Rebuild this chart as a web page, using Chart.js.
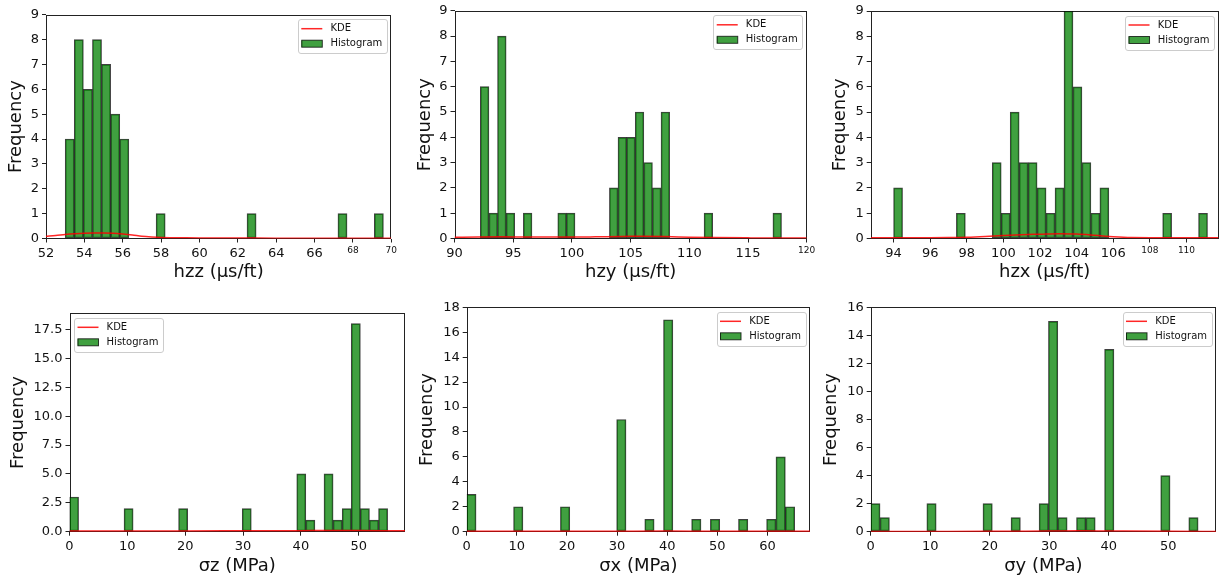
<!DOCTYPE html>
<html><head><meta charset="utf-8">
<script src="https://cdn.jsdelivr.net/npm/chart.js@4.4.1/dist/chart.umd.min.js"></script>
<style>
html,body{margin:0;padding:0;background:#fff;}
#wrap{position:relative;width:1225px;height:579px;overflow:hidden;background:#fff;}
.p{position:absolute;}
.p canvas{display:block;}
</style></head><body>
<div id="wrap">
<div class="p" id="b1"><canvas id="c1"></canvas></div>
<div class="p" id="b2"><canvas id="c2"></canvas></div>
<div class="p" id="b3"><canvas id="c3"></canvas></div>
<div class="p" id="b4"><canvas id="c4"></canvas></div>
<div class="p" id="b5"><canvas id="c5"></canvas></div>
<div class="p" id="b6"><canvas id="c6"></canvas></div>
</div>
<script>
// ---------------- DATA ----------------
// hzz
const hzzBinStart = 53.0, hzzBinWidth = 0.474;
const hzzCounts = [4,8,6,8,7,5,4,0,0,0,1,0,0,0,0,0,0,0,0,0,1,0,0,0,0,0,0,0,0,0,1,0,0,0,1];
const hzzKdeX = [52,52.5,53,53.5,54,54.5,55,55.5,56,56.5,57,57.5,58,59,60,62,64,66,68,70];
const hzzKdeY = [0.09,0.12,0.16,0.19,0.21,0.22,0.22,0.21,0.18,0.14,0.09,0.06,0.04,0.03,0.02,0.018,0.015,0.015,0.015,0.015];
const hzzXTicks = [52,54,56,58,60,62,64,66,68,70];
const hzzSmallTicks = [68,70];
// hzy
const hzyBinStart = 92.2, hzyBinWidth = 0.733;
const hzyCounts = [6,1,8,1,0,1,0,0,0,1,1,0,0,0,0,2,4,4,5,3,2,5,0,0,0,0,1,0,0,0,0,0,0,0,1];
const hzyKdeX = [90,92,94,96,98,100,102,104,105,106,108,110,112,115,118,120];
const hzyKdeY = [0.05,0.06,0.065,0.06,0.055,0.055,0.065,0.08,0.085,0.085,0.075,0.05,0.035,0.025,0.02,0.02];
const hzyXTicks = [90,95,100,105,110,115,120];
const hzySmallTicks = [120];
// hzx
const hzxBinStart = 94.0, hzxBinWidth = 0.49;
const hzxCounts = [2,0,0,0,0,0,0,1,0,0,0,3,1,5,3,3,2,1,2,9,6,3,1,2,0,0,0,0,0,0,1,0,0,0,1];
const hzxKdeX = [92.75,94,96,97,98,99,100,101,102,103,104,105,106,107,108,110,111.75];
const hzxKdeY = [0.03,0.03,0.03,0.035,0.05,0.08,0.12,0.15,0.17,0.19,0.18,0.13,0.07,0.035,0.03,0.03,0.03];
const hzxXTicks = [94,96,98,100,102,104,106,108,110];
const hzxSmallTicks = [108,110];
// sigma z
const szBinStart = 0, szBinWidth = 1.5714;
const szCounts = [3,0,0,0,0,0,2,0,0,0,0,0,2,0,0,0,0,0,0,2,0,0,0,0,0,5,1,0,5,1,2,18,2,1,2];
const szKdeX = [0,10,20,30,40,45,50,55,58];
const szKdeY = [0.07,0.07,0.07,0.08,0.09,0.1,0.1,0.09,0.08];
const szXTicks = [0,10,20,30,40,50];
// sigma x
const sxBinStart = 0, sxBinWidth = 1.87;
const sxCounts = [3,0,0,0,0,2,0,0,0,0,2,0,0,0,0,0,9,0,0,1,0,17,0,0,1,0,1,0,0,1,0,0,1,6,2];
const sxKdeX = [0,10,20,30,40,50,60,68.5];
const sxKdeY = [0.03,0.03,0.03,0.04,0.05,0.04,0.04,0.03];
const sxXTicks = [0,10,20,30,40,50,60];
// sigma y
const syBinStart = 0, syBinWidth = 1.5714;
const syCounts = [2,1,0,0,0,0,2,0,0,0,0,0,2,0,0,1,0,0,2,15,1,0,1,1,0,13,0,0,0,0,0,4,0,0,1];
const syKdeX = [0,10,20,30,35,40,50,58];
const syKdeY = [0.02,0.02,0.025,0.05,0.06,0.05,0.03,0.02];
const syXTicks = [0,10,20,30,40,50];

const yTicks9 = [0,1,2,3,4,5,6,7,8,9];
const yTicksSz = [0,2.5,5,7.5,10,12.5,15,17.5];
const yTicksSx = [0,2,4,6,8,10,12,14,16,18];
const yTicksSy = [0,2,4,6,8,10,12,14,16];

// ---------------- STYLE / LAYOUT ----------------
Chart.defaults.font.family = "'DejaVu Sans', sans-serif";
Chart.defaults.color = '#111';

const framePlugin = {
  id: 'frame',
  beforeDatasetsDraw(chart) {
    const {ctx, chartArea: a} = chart;
    ctx.save();
    ctx.strokeStyle = '#222';
    ctx.lineWidth = 1;
    const l = Math.round(a.left) + 0.5, t = Math.round(a.top) + 0.5;
    const r = Math.round(a.right) - 0.5, b = Math.round(a.bottom) - 0.5;
    ctx.strokeRect(l, t, r - l, b - t);
    ctx.restore();
  }
};

const legendPlugin = {
  id: 'mplLegend',
  afterDraw(chart, args, opts) {
    const {ctx, chartArea: a} = chart;
    const ds = chart.data.datasets;
    ctx.save();
    ctx.font = "10px 'DejaVu Sans', sans-serif";
    const textW = Math.max(...ds.map(d => ctx.measureText(d.label).width));
    const w = 32.6 + textW + 4.5, h = 34.3;
    const x = opts.side === 'left' ? a.left + 4.5 : a.right - 4.5 - w;
    const y = a.top + 4.5;
    ctx.beginPath();
    ctx.roundRect(Math.round(x) + 0.5, Math.round(y) + 0.5, Math.round(w), Math.round(h), 2.5);
    ctx.fillStyle = 'rgba(255,255,255,0.8)';
    ctx.fill();
    ctx.strokeStyle = '#cccccc';
    ctx.lineWidth = 1;
    ctx.stroke();
    // KDE row
    const r1 = y + 9.5, r2 = y + 24.5;
    ctx.strokeStyle = ds[0].borderColor;
    ctx.lineWidth = 1.5;
    ctx.beginPath(); ctx.moveTo(x + 3.5, r1); ctx.lineTo(x + 24.5, r1); ctx.stroke();
    // Histogram row
    ctx.fillStyle = ds[1].backgroundColor;
    ctx.fillRect(x + 3.5, r2 - 3.5, 21, 7);
    ctx.strokeStyle = ds[1].borderColor;
    ctx.lineWidth = 1;
    ctx.strokeRect(x + 4, r2 - 3.5, 20.5, 7);
    ctx.fillStyle = '#111';
    ctx.textBaseline = 'middle';
    ctx.textAlign = 'left';
    ctx.fillText(ds[0].label, x + 32.6, r1);
    ctx.fillText(ds[1].label, x + 32.6, r2);
    ctx.restore();
  }
};

function makePanel(p) {
  const box = document.getElementById(p.box);
  Object.assign(box.style, {left: p.rect[0] + 'px', top: p.rect[1] + 'px', width: p.rect[2] + 'px', height: p.rect[3] + 'px'});
  const canvas = document.getElementById(p.canvas);
  const barData = p.counts.map((c, i) => ({x: p.binStart + (i + 0.5) * p.binWidth, y: c > 0 ? c : null}));
  const kdeData = p.kdeX.map((x, i) => ({x: x, y: p.kdeY[i]}));
  const small = p.smallTicks || [];
  new Chart(canvas, {
    type: 'bar',
    data: {
      datasets: [
        {type: 'line', label: 'KDE', data: kdeData, borderColor: 'rgba(255,0,0,0.85)', borderWidth: 1.5,
         pointRadius: 0, cubicInterpolationMode: 'monotone', order: 0},
        {type: 'bar', label: 'Histogram', data: barData, backgroundColor: 'rgba(0,128,0,0.75)',
         borderColor: 'rgba(0,0,0,0.75)', borderWidth: 1, borderSkipped: false,
         barPercentage: 1, categoryPercentage: 1, order: 1}
      ]
    },
    options: {
      responsive: true, maintainAspectRatio: false, animation: false, events: [],
      layout: {padding: {left: 0, right: p.padR, top: p.padT, bottom: 0}},
      plugins: {legend: {display: false}, tooltip: {enabled: false}, mplLegend: {side: p.legendSide}},
      scales: {
        x: {
          type: 'linear', min: p.xMin, max: p.xMax, offset: false,
          afterBuildTicks: s => { s.ticks = p.xTicks.map(v => ({value: v})); },
          afterFit: s => { s.height = p.xAxisH; },
          ticks: {autoSkip: false, maxRotation: 0, minRotation: 0, padding: 3, color: '#111',
                  font: ctx => ({size: (ctx.tick && small.includes(ctx.tick.value)) ? 9 : 13}),
                  callback: v => String(v)},
          grid: {offset: false, drawOnChartArea: false, drawTicks: true, tickLength: 4, color: '#222'},
          border: {display: false},
          title: {display: true, text: p.xTitle, font: {size: 18}, color: '#111', padding: {top: 0, bottom: p.xTitlePad}}
        },
        y: {
          type: 'linear', min: 0, max: p.yMax,
          afterBuildTicks: s => { s.ticks = p.yTicks.map(v => ({value: v})); },
          afterFit: s => { s.width = p.yAxisW; },
          ticks: {autoSkip: false, padding: 3, color: '#111', font: {size: 13},
                  callback: v => p.yDecimals ? v.toFixed(p.yDecimals) : String(v)},
          grid: {drawOnChartArea: false, drawTicks: true, tickLength: 4, color: '#222'},
          border: {display: false},
          title: {display: true, text: 'Frequency', font: {size: 18}, color: '#111', padding: {top: p.yTitlePad, bottom: 0}}
        }
      }
    },
    plugins: [framePlugin, legendPlugin]
  });
}

const panels = [
  {box: 'b1', canvas: 'c1', rect: [0, 0, 400, 290], yAxisW: 46, padR: 7.3, padT: 14.7, xAxisH: 51.5,
   yTitlePad: 5.4, xTitlePad: 6.7, xTitle: 'hzz (µs/ft)', xMin: 52, xMax: 70, yMax: 9,
   binStart: hzzBinStart, binWidth: hzzBinWidth, counts: hzzCounts, kdeX: hzzKdeX, kdeY: hzzKdeY,
   xTicks: hzzXTicks, smallTicks: hzzSmallTicks, yTicks: yTicks9, legendSide: 'right'},
  {box: 'b2', canvas: 'c2', rect: [400, 0, 420, 290], yAxisW: 54.5, padR: 13.3, padT: 9.3, xAxisH: 51.5,
   yTitlePad: 14.2, xTitlePad: 6.7, xTitle: 'hzy (µs/ft)', xMin: 90, xMax: 120, yMax: 9,
   binStart: hzyBinStart, binWidth: hzyBinWidth, counts: hzyCounts, kdeX: hzyKdeX, kdeY: hzyKdeY,
   xTicks: hzyXTicks, smallTicks: hzySmallTicks, yTicks: yTicks9, legendSide: 'right'},
  {box: 'b3', canvas: 'c3', rect: [820, 0, 405, 290], yAxisW: 50.7, padR: 6.5, padT: 11, xAxisH: 51.5,
   yTitlePad: 9.7, xTitlePad: 6.7, xTitle: 'hzx (µs/ft)', xMin: 92.75, xMax: 111.75, yMax: 9,
   binStart: hzxBinStart, binWidth: hzxBinWidth, counts: hzxCounts, kdeX: hzxKdeX, kdeY: hzxKdeY,
   xTicks: hzxXTicks, smallTicks: hzxSmallTicks, yTicks: yTicks9, legendSide: 'right'},
  {box: 'b4', canvas: 'c4', rect: [0, 290, 410, 289], yAxisW: 69.5, padR: 5, padT: 23.3, xAxisH: 47.3,
   yTitlePad: 7.5, xTitlePad: 2.2, xTitle: 'σz (MPa)', xMin: 0, xMax: 58, yMax: 18.9, yDecimals: 1,
   binStart: szBinStart, binWidth: szBinWidth, counts: szCounts, kdeX: szKdeX, kdeY: szKdeY,
   xTicks: szXTicks, yTicks: yTicksSz, legendSide: 'left'},
  {box: 'b5', canvas: 'c5', rect: [410, 290, 405, 289], yAxisW: 56.7, padR: 5, padT: 17.3, xAxisH: 47.3,
   yTitlePad: 6.7, xTitlePad: 2.2, xTitle: 'σx (MPa)', xMin: 0, xMax: 68.5, yMax: 18,
   binStart: sxBinStart, binWidth: sxBinWidth, counts: sxCounts, kdeX: sxKdeX, kdeY: sxKdeY,
   xTicks: sxXTicks, yTicks: yTicksSx, legendSide: 'right'},
  {box: 'b6', canvas: 'c6', rect: [815, 290, 410, 289], yAxisW: 55.7, padR: 9, padT: 17.3, xAxisH: 47.3,
   yTitlePad: 5.9, xTitlePad: 2.2, xTitle: 'σy (MPa)', xMin: 0, xMax: 58, yMax: 16,
   binStart: syBinStart, binWidth: syBinWidth, counts: syCounts, kdeX: syKdeX, kdeY: syKdeY,
   xTicks: syXTicks, yTicks: yTicksSy, legendSide: 'right'}
];
panels.forEach(makePanel);
</script>
</body></html>
